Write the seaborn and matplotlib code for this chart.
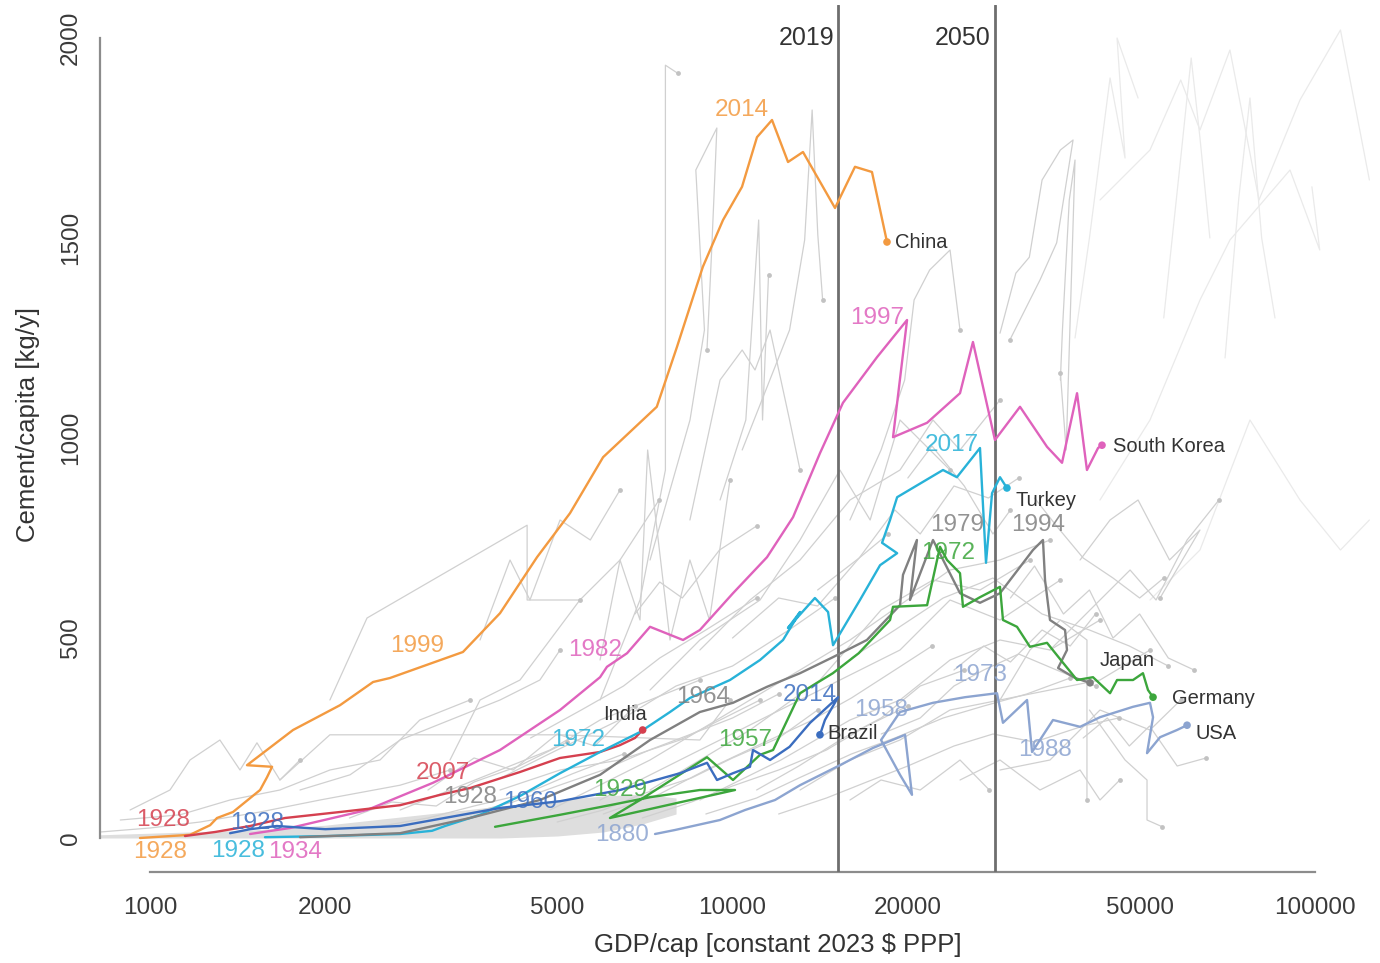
import matplotlib
matplotlib.use("Agg")
import matplotlib.pyplot as plt
import matplotlib.ticker as mticker
import seaborn as sns
import pandas as pd

# highlighted countries: GDP/cap [2023 $ PPP] and cement/capita [kg/y]
china_gdp = [961, 1171, 1268, 1303, 1388, 1545, 1588, 1620, 1467, 1760, 2119, 2415, 2582, 3445, 3989, 4617,
             5260, 5995, 7413, 8030, 8894, 9632, 10383, 11015, 11690, 12454, 13213, 14996, 16228, 17355, 18418]
china_cem = [0, 8, 32, 50, 65, 120, 152, 178, 182, 270, 332, 390, 400, 465, 562, 702,
             812, 952, 1078, 1228, 1428, 1545, 1628, 1752, 1795, 1690, 1715, 1575, 1678, 1665, 1490]

skorea_gdp = [1485, 1739, 2358, 3060, 3989, 5057, 5924, 6088, 6592, 7218, 8224, 8790, 10020, 11461, 12703, 14130,
              15475, 17703, 19937, 18862, 21577, 24580, 25870, 28220, 31160, 34670, 36790, 39040, 40600, 42420, 43090]
skorea_cem = [10, 25, 70, 138, 220, 320, 402, 428, 462, 528, 495, 520, 612, 702, 802, 962,
              1088, 1202, 1295, 1002, 1038, 1112, 1240, 995, 1078, 978, 938, 1112, 920, 975, 982]

india_gdp = [1148, 1293, 1485, 1705, 2119, 2687, 3150, 3545, 4317, 5055, 5924, 6405, 6800, 7010]
india_cem = [5, 15, 30, 50, 65, 82, 108, 125, 165, 200, 215, 232, 250, 270]

turkey_gdp = [1575, 2037, 2687, 3049, 3210, 3686, 4317, 5057, 5924, 6937, 7811, 8453, 9901, 11150, 12210, 13060,
              12450, 13850, 14590, 14880, 16550, 17920, 19170, 18060, 18640, 19170, 22980, 24280, 26600, 27240,
              27900, 28790, 29590]
turkey_cem = [2, 5, 10, 18, 30, 58, 105, 162, 215, 265, 315, 350, 395, 445, 495, 565,
              525, 600, 565, 482, 595, 682, 712, 738, 795, 852, 920, 902, 975, 688,
              862, 902, 875]

japan_gdp = [1809, 2687, 3542, 4671, 5924, 7218, 8790, 10020, 11461, 13060, 14870, 17010, 19390, 19620, 20730,
             20170, 22090, 24580, 26600, 28790, 32800, 34120, 34400, 35080, 37230, 37520, 36220, 38730, 41100]
japan_cem = [2, 12, 50, 95, 158, 245, 315, 338, 378, 412, 452, 495, 582, 658, 745,
             595, 745, 612, 588, 612, 720, 745, 645, 545, 520, 470, 425, 400, 388]

germany_gdp = [3911, 5057, 6160, 7218, 8790, 10100, 6160, 6937, 9042, 10020, 11150, 11740, 13060, 14870, 16470,
               18640, 18860, 21580, 22710, 23350, 24580, 24870, 26600, 28790, 29130, 30790, 32410, 34670, 36940,
               39040, 41580, 44480, 45730, 48710, 50660, 51680, 52720]
germany_cem = [28, 58, 82, 102, 120, 120, 50, 95, 202, 145, 208, 220, 362, 412, 462,
               545, 578, 582, 728, 695, 662, 578, 602, 628, 545, 528, 478, 488, 438,
               395, 402, 362, 395, 395, 412, 370, 352]

brazil_gdp = [1372, 1485, 1650, 2000, 2687, 3989, 5057, 6410, 8127, 9042, 9406, 10020, 10715, 10845, 11600,
              12530, 13590, 15180, 14410, 14130]
brazil_cem = [12, 22, 30, 22, 30, 75, 92, 120, 162, 188, 145, 162, 178, 220, 195,
              228, 288, 352, 295, 258]

usa_gdp = [7362, 7965, 9517, 10510, 11830, 13060, 15290, 17420, 19780, 20330, 19390, 17990, 19390, 22090, 25070,
           28450, 29130, 32040, 32680, 35500, 39510, 42750, 48710, 52090, 52720, 51480, 54200, 57960, 60310]
usa_cem = [10, 20, 45, 70, 95, 132, 182, 225, 258, 108, 158, 245, 315, 338, 352,
           362, 288, 345, 215, 295, 278, 302, 328, 338, 302, 212, 252, 270, 282]

# all other countries (grey background traces)
bg_gdp = [
    [5924, 6937, 7670, 7670, 8050],
    [7218, 8453, 8950, 8650, 9400, 9210, 9040],
    [10390, 12530, 13300, 13700, 14010, 14280],
    [9520, 10540, 11090, 11260, 11530],
    [8450, 9520, 10390, 10930, 11600, 12530, 13060],
    [15910, 17990, 19750, 20500, 21800, 23630, 24580],
    [28790, 30650, 32330, 34000, 36550, 38430, 36020, 33720, 29930],
    [36550, 36850, 37860, 38730, 37400, 36550],
    [35080, 42750, 48150, 53350, 60310, 68400],
    [41000, 47200, 51480, 51480, 54700],
    [24580, 28790, 33720, 39510, 42750, 46230],
    [28790, 32410, 36550, 40600, 40600],
    [28790, 35080, 42750, 52090, 58820],
    [4860, 7218, 10715, 15910, 23630, 28790, 35080],
    [5924, 8790, 13060, 19390, 23630, 28790, 36550],
    [7218, 10715, 14130, 17990, 22090, 26600, 32410],
    [8790, 12110, 15910, 19390, 23630, 28790, 35080, 42750],
    [13060, 15910, 19390, 23630, 28790, 35080, 42750, 52090],
    [8790, 10715, 13060, 15910, 19390, 22090, 24580, 28790],
    [7218, 8790, 11150, 13060, 15290, 17230, 19390, 23630],
    [5924, 6410, 6937, 7150, 7810, 8450, 9130, 9900],
    [3273, 3686, 4317, 4860, 5470, 6410, 7480],
    [2036, 2358, 4440, 4440, 5470],
    [1671, 2036, 5057, 8790, 9900],
    [924, 1082, 1171, 1318, 1427, 1526, 1671, 1809],
    [821, 1000, 1219, 1545, 1958, 2687, 3273],
    [889, 1126, 1372, 1671, 2036, 2482, 2905, 3542],
    [1809, 2205, 2687, 3273, 3989, 4670, 5057],
    [2687, 3273, 3989, 4860, 5924, 7218, 8790],
    [15910, 17990, 21000, 24580, 27600],
    [3989, 5057, 6410, 8127, 9520, 11150],
    [3686, 4150, 4490, 5057, 5700, 6410],
    [39510, 44480, 49690, 56270, 63470, 54200],
    [4000, 5000, 6500, 8000, 10000, 12500, 15000],
    [6000, 7500, 9000, 11000, 13500, 16000, 19000, 22000],
    [9000, 11000, 13000, 16000, 19000, 23000, 27000, 32000, 38000],
    [12000, 14500, 17000, 20000, 24000, 28000, 33000, 40000, 46000],
    [16000, 19000, 23000, 28000, 34000, 41000, 48000, 56000],
    [14000, 16500, 19000, 21000, 24000, 27500, 31000],
    [30000, 33000, 37000, 41000, 45000, 50000, 56000, 62000],
    [40000, 44000, 48000, 52000, 58000, 65000],
    [3000, 3600, 4200, 5000, 5800, 6800],
    [2200, 2600, 3100, 3600, 4300, 5200],
    [20000, 22000, 25000, 28000, 30000],
    [24000, 27000, 30000, 34000, 38000, 42000],
    [10000, 12000, 14000, 16500, 18500],
    [33000, 36000, 40000, 45000, 50000, 55000],
    [6800, 7500, 8200, 9500, 11000],
    [3500, 4200, 5000, 6000, 7200, 8500, 10000, 12000],
    [5000, 6000, 7000, 8500, 10000, 12000, 14000],
    [7000, 8500, 10000, 12000, 14500, 17000, 20000],
    [11000, 13000, 15500, 18000, 21000, 25000],
    [2500, 3000, 3600, 4400, 5300, 6500],
    [18000, 21000, 24000, 27000, 31000, 36000, 42000],
    [4500, 5500, 6500, 7500, 9000, 11000],
]
bg_cem = [
    [345, 595, 920, 1932, 1912],
    [695, 1045, 1270, 1670, 1775, 1470, 1220],
    [970, 1270, 1495, 1820, 1508, 1345],
    [845, 1045, 1545, 1045, 1408],
    [795, 1145, 1220, 1170, 1270, 1045, 920],
    [795, 970, 1145, 1345, 1420, 1470, 1270],
    [1262, 1412, 1452, 1645, 1720, 1745, 1488, 1395, 1245],
    [1145, 1270, 1595, 1695, 970, 1162],
    [470, 595, 670, 595, 745, 845],
    [320, 195, 145, 45, 28],
    [145, 195, 120, 170, 95, 145],
    [345, 470, 545, 495, 95],
    [170, 195, 320, 270, 345],
    [70, 195, 345, 495, 670, 695, 745],
    [95, 220, 345, 470, 595, 545, 645],
    [120, 270, 395, 570, 645, 620, 695],
    [95, 195, 295, 345, 445, 495, 470, 545],
    [120, 195, 245, 320, 345, 370, 395, 470],
    [470, 595, 695, 845, 920, 1045, 970, 1095],
    [370, 495, 595, 745, 920, 795, 1045, 920],
    [445, 695, 545, 970, 495, 695, 545, 895],
    [195, 345, 395, 495, 595, 695, 845],
    [345, 550, 782, 595, 595],
    [145, 258, 258, 245, 345],
    [70, 120, 195, 245, 170, 238, 145, 195],
    [15, 25, 40, 65, 95, 132, 170],
    [45, 58, 95, 120, 170, 195, 295, 345],
    [120, 158, 245, 295, 345, 395, 470],
    [70, 120, 170, 220, 295, 345, 395],
    [95, 145, 120, 195, 120],
    [120, 170, 195, 245, 295, 345],
    [495, 695, 595, 795, 745, 870],
    [695, 795, 845, 695, 770, 600],
    [150, 220, 300, 380, 430, 520, 600],
    [60, 110, 170, 230, 290, 350, 420, 480],
    [60, 100, 150, 210, 250, 300, 330, 360, 400],
    [60, 100, 140, 180, 230, 260, 240, 280, 300],
    [450, 520, 600, 650, 560, 520, 480, 430],
    [620, 700, 820, 760, 880, 850, 900],
    [600, 680, 560, 620, 500, 560, 450, 420],
    [250, 300, 230, 280, 180, 200],
    [120, 200, 170, 260, 230, 330],
    [50, 90, 80, 140, 180, 240],
    [900, 980, 880, 760, 820],
    [420, 480, 440, 520, 480, 560],
    [500, 600, 580, 700, 760],
    [850, 780, 700, 650, 600, 650],
    [560, 640, 600, 720, 780],
    [60, 90, 130, 170, 220, 260, 300, 360],
    [40, 70, 110, 150, 200, 250, 320],
    [50, 90, 130, 170, 220, 280, 330],
    [120, 180, 250, 300, 380, 420],
    [30, 50, 80, 110, 160, 210],
    [260, 300, 380, 420, 460, 420, 380],
    [250, 320, 380, 450, 520, 600],
]

# very faint traces of rich countries (upper right)
faint_gdp = [
    [42750, 52090, 58820, 63470, 71450, 80150, 94240, 110600, 124000],
    [42750, 52090, 63470, 71450, 90600, 101900, 98800],
    [52090, 63470, 77340, 94240, 110600, 124000],
    [38730, 41000, 44480, 47200, 45730, 49690],
    [55000, 58820, 61300, 63470, 66000],
    [70080, 74000, 77340, 81000, 85380],
]
faint_cem = [
    [1595, 1720, 1895, 1770, 1970, 1595, 1845, 2020, 1645],
    [845, 1045, 1345, 1495, 1670, 1470, 1628],
    [595, 720, 1045, 845, 720, 795],
    [1250, 1500, 1900, 1700, 2000, 1850],
    [1300, 1700, 1950, 1750, 1500],
    [1200, 1600, 1850, 1500, 1300],
]

# dense overlap of low-income traces near the bottom
band_gdp = [820, 1000, 1500, 2000, 3000, 4000, 5000, 6000, 7000, 8000]
band_lo = [0, 0, 0, 0, 0, 0, 5, 15, 35, 60]
band_hi = [8, 12, 20, 32, 60, 80, 95, 105, 110, 100]

# reference years (vertical lines)
ref_years = ["2019", "2050"]
ref_gdp = [15180, 28220]

# year annotations along the highlighted traces
year_text = ["1928", "1999", "2014", "1934", "1982", "1997", "1928", "2007", "1928", "1972", "2017",
             "1928", "1964", "1979", "1994", "1929", "1957", "1972", "1928", "1960", "2014",
             "1880", "1958", "1973", "1988"]
year_country = ["China", "China", "China", "South Korea", "South Korea", "South Korea", "India", "India",
                "Turkey", "Turkey", "Turkey", "Japan", "Japan", "Japan", "Japan", "Germany", "Germany",
                "Germany", "Brazil", "Brazil", "Brazil", "USA", "USA", "USA", "USA"]
year_gdp = [1040, 2873, 10383, 1774, 5807, 17703, 1053, 3184, 1416, 5430, 23820,
            3542, 8894, 24280, 33450, 6410, 10510, 23440, 1526, 4490, 13590,
            6460, 17990, 26600, 34400]
year_cem = [-35, 480, 1820, -35, 470, 1300, 45, 162, -32, 245, 982,
            102, 352, 782, 782, 120, 245, 712, 38, 90, 358,
            8, 320, 408, 220]

country_names = ["China", "South Korea", "India", "Turkey", "Brazil", "Japan", "Germany", "USA"]
country_lab_gdp = [19010, 45010, 6540, 30550, 14530, 42750, 56820, 62250]
country_lab_cem = [1488, 978, 308, 845, 262, 445, 350, 262]

colors = {"China": "#F39A40", "South Korea": "#DF62BC", "India": "#D5404F", "Turkey": "#28B2D8",
          "Japan": "#808080", "Germany": "#3CA63C", "Brazil": "#3B6DBF", "USA": "#8CA4D0"}


def long_table(xs, ys, prefix):
    rows = []
    for i, (gx, gy) in enumerate(zip(xs, ys)):
        for j in range(len(gx)):
            rows.append(("%s%02d" % (prefix, i), j, gx[j], gy[j]))
    return pd.DataFrame(rows, columns=["id", "step", "gdp", "cem"])


if __name__ == "__main__":
    sns.set_style("white")
    plt.rcParams['font.family'] = ['Liberation Sans', 'DejaVu Sans']

    fig = plt.figure(figsize=(13.8, 9.63), dpi=100)
    ax = fig.add_axes([100 / 1380, 91 / 963, 1270 / 1380, 867 / 963])
    ax.set_xscale('log')

    # background
    ax.fill_between(band_gdp, band_lo, band_hi, color='#DEDEDE', lw=0, zorder=1)

    bg = long_table(bg_gdp, bg_cem, "bg")
    sns.lineplot(data=bg, x="gdp", y="cem", units="id", estimator=None, sort=False,
                 color="#D0D0D0", lw=0.9, ax=ax, zorder=2)
    ends = bg.groupby("id").tail(1)
    sns.scatterplot(data=ends, x="gdp", y="cem", color="#C2C2C2", s=12, linewidth=0, ax=ax, zorder=2)

    fb = long_table(faint_gdp, faint_cem, "f")
    sns.lineplot(data=fb, x="gdp", y="cem", units="id", estimator=None, sort=False,
                 color="#EAEAEA", lw=0.9, ax=ax, zorder=1)

    # highlighted countries
    series = {"China": (china_gdp, china_cem), "South Korea": (skorea_gdp, skorea_cem),
              "India": (india_gdp, india_cem), "Turkey": (turkey_gdp, turkey_cem),
              "Japan": (japan_gdp, japan_cem), "Germany": (germany_gdp, germany_cem),
              "Brazil": (brazil_gdp, brazil_cem), "USA": (usa_gdp, usa_cem)}
    rows = []
    for name, (gx, gy) in series.items():
        for j in range(len(gx)):
            rows.append((name, j, gx[j], gy[j]))
    hl = pd.DataFrame(rows, columns=["country", "step", "gdp", "cem"])
    sns.lineplot(data=hl, x="gdp", y="cem", hue="country", units="country", estimator=None, sort=False,
                 palette=colors, lw=1.7, legend=False, ax=ax, zorder=4)
    last = hl.groupby("country").tail(1)
    sns.scatterplot(data=last, x="gdp", y="cem", hue="country", palette=colors, s=30, linewidth=0,
                    legend=False, ax=ax, zorder=5)

    # reference years
    for lab, gx in zip(ref_years, ref_gdp):
        ax.axvline(gx, color='#6E6E6E', lw=2, zorder=3)
        ax.annotate(lab, xy=(gx, 2000), xytext=(-3, 0), textcoords='offset points',
                    ha='right', va='center', fontsize=18, color='#333333')

    for t, c, gx, gy in zip(year_text, year_country, year_gdp, year_cem):
        ax.text(gx, gy, t, color=colors[c], alpha=0.85, fontsize=17.5, ha='center', va='center', zorder=6)

    for name, gx, gy in zip(country_names, country_lab_gdp, country_lab_cem):
        ax.text(gx, gy, name, color='#333333', fontsize=14.5, ha='center' if name == "India" else 'left',
                va='center', zorder=6)

    # axes, R-like
    ax.set_xlim(820.5, 124300)
    ax.set_ylim(-85, 2082.5)
    sns.despine(ax=ax)
    for side in ['left', 'bottom']:
        ax.spines[side].set_color('#8C8C8C')
        ax.spines[side].set_linewidth(1.6)
    ax.spines['left'].set_bounds(0, 2000)
    ax.spines['bottom'].set_bounds(1000, 100000)

    ax.set_xticks([1000, 2000, 5000, 10000, 20000, 50000, 100000])
    ax.set_xticklabels(["1000", "2000", "5000", "10000", "20000", "50000", "100000"])
    ax.xaxis.set_minor_locator(mticker.NullLocator())
    ax.set_yticks([0, 500, 1000, 1500, 2000])
    ax.set_yticklabels(["0", "500", "1000", "1500", "2000"])
    ax.tick_params(axis='both', direction='out', length=7, width=1.4, color='#8C8C8C',
                   labelsize=17.5, labelcolor='#3A3A3A')
    ax.tick_params(axis='x', pad=11)
    ax.tick_params(axis='y', pad=6)
    plt.setp(ax.get_yticklabels(), rotation=90, va='center')

    ax.set_xlabel('GDP/cap [constant 2023 $ PPP]', fontsize=18.5, color='#333333')
    ax.set_ylabel('Cement/capita [kg/y]', fontsize=18.5, color='#333333')
    ax.xaxis.set_label_coords(0.534, -0.07)
    ax.yaxis.set_label_coords(-0.047, 0.516)

    plt.savefig('out.png', dpi=100)
